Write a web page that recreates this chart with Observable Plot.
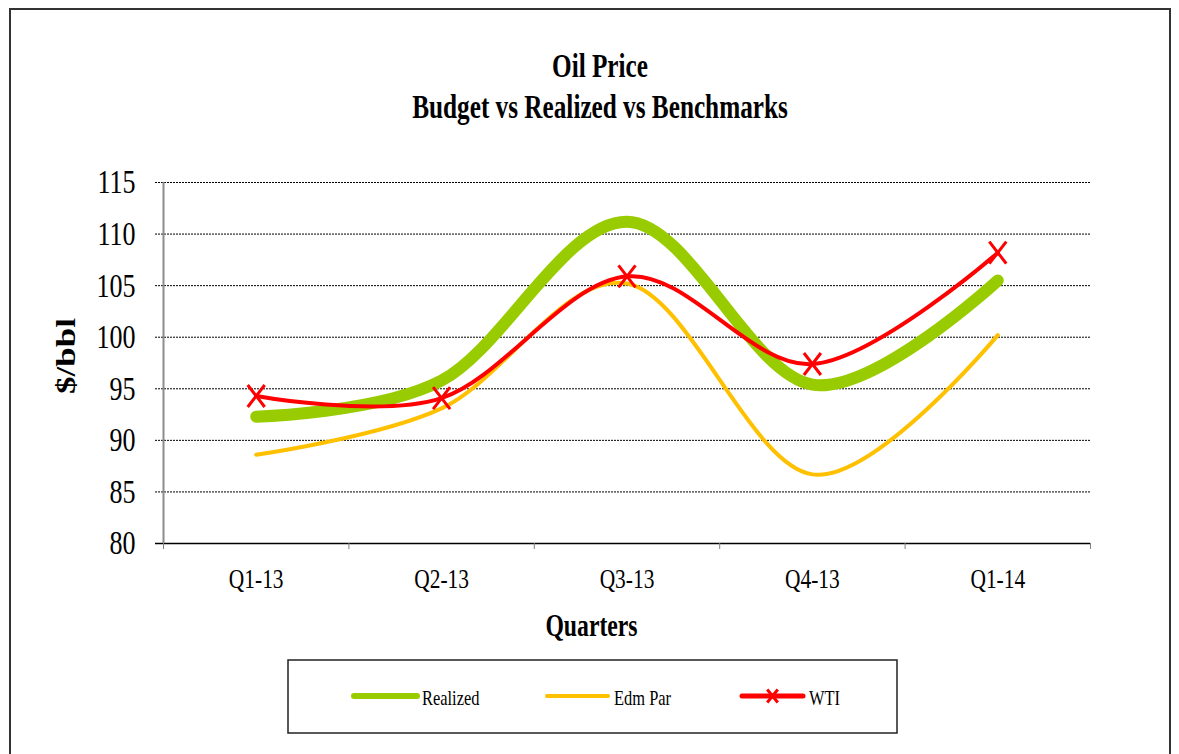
<!DOCTYPE html>
<html><head><meta charset="utf-8">
<script src="https://cdn.jsdelivr.net/npm/d3@7"></script>
<script src="https://cdn.jsdelivr.net/npm/@observablehq/plot@0.6"></script>
<style>
html,body{margin:0;padding:0;background:#fff;}
#wrap{position:relative;width:1179px;height:754px;overflow:hidden;background:#fff;}
#chart{position:absolute;left:0;top:0;}
#overlay{position:absolute;left:0;top:0;pointer-events:none;}
</style></head><body>
<div id="wrap"><div id="chart"></div><svg id="overlay" width="1179" height="754"></svg></div>
<script>
// ---- data ----
const quarters = ["Q1-13", "Q2-13", "Q3-13", "Q4-13", "Q1-14"];
const realized = [92.3, 95.8, 111.2, 95.4, 105.5];
const edmPar   = [88.6, 93.1, 105.2, 86.7, 100.2];
const wti      = [94.3, 94.1, 105.9, 97.4, 108.2];
const yTicks   = [80, 85, 90, 95, 100, 105, 110, 115];
const seriesNames = ["Realized", "Edm Par", "WTI"];
const titleLines = ["Oil Price", "Budget vs Realized vs Benchmarks"];
const xTitle = "Quarters";
const yTitle = "$/bbl";

// ---- styling ----
const colors = ["#99CC00", "#FFC000", "#FF0000"];
const FONT = "'Liberation Serif', 'Times New Roman', serif";
const S = 0.765; // horizontal squeeze of the reference's type

const rows = (vals) => quarters.map((q, i) => ({x: i + 0.5, q, v: vals[i]}));
const xMid = quarters.map((q, i) => i + 0.5);
const xBounds = d3.range(quarters.length + 1);
const gridTicks = yTicks.filter(t => t > yTicks[0]);

const xMark = {draw(ctx) { ctx.moveTo(-8.5, -11); ctx.lineTo(8.5, 11); ctx.moveTo(8.5, -11); ctx.lineTo(-8.5, 11); }};

const plot = Plot.plot({
  width: 1179, height: 660,
  marginLeft: 163, marginRight: 89, marginTop: 182, marginBottom: 117,
  style: {fontFamily: FONT, background: "transparent", color: "#000", overflow: "visible"},
  x: {type: "linear", domain: [0, quarters.length]},
  y: {type: "linear", domain: [yTicks[0], yTicks[yTicks.length - 1]]},
  marks: [
    Plot.ruleY(gridTicks, {stroke: "#000", strokeWidth: 1, strokeDasharray: "2,1", insetLeft: -8}),
    Plot.ruleY([yTicks[0]], {stroke: "#000", strokeWidth: 1.5, insetLeft: -8}),
    Plot.ruleX([0], {stroke: "#8c8c8c", strokeWidth: 2}),
    Plot.axisY(yTicks, {tickSize: 0, tickPadding: 28, fontSize: 34, label: null}),
    Plot.axisX(xBounds, {tickSize: 6, stroke: "#808080", tickFormat: () => "", label: null}),
    Plot.axisX(xMid, {tickSize: 0, tickPadding: 25, fontSize: 28, tickFormat: d => quarters[Math.floor(d)], label: null}),
    Plot.line(rows(realized), {x: "x", y: "v", stroke: colors[0], strokeWidth: 12, strokeLinecap: "round", curve: "cardinal", tension: 0}),
    Plot.line(rows(edmPar), {x: "x", y: "v", stroke: colors[1], strokeWidth: 4, strokeLinecap: "round", curve: "cardinal", tension: 0}),
    Plot.line(rows(wti), {x: "x", y: "v", stroke: colors[2], strokeWidth: 4, strokeLinecap: "round", curve: "cardinal", tension: 0}),
    Plot.dot(rows(wti), {x: "x", y: "v", symbol: xMark, stroke: colors[2], strokeWidth: 3, fill: "none", r: 5})
  ]
});
document.getElementById("chart").appendChild(plot);
plot.querySelectorAll("text").forEach(t => {
  const w = t.getComputedTextLength();
  if (w > 0) { t.setAttribute("textLength", w * S); t.setAttribute("lengthAdjust", "spacingAndGlyphs"); }
});

// ---- overlay: frame, titles, legend ----
const ov = d3.select("#overlay");
ov.append("rect").attr("x", 10).attr("y", 9).attr("width", 1160).attr("height", 800)
  .attr("fill", "none").attr("stroke", "#333").attr("stroke-width", 2);

function txt(s, transform, size, weight, anchor) {
  return ov.append("text").attr("transform", transform).attr("text-anchor", anchor || "middle")
    .attr("font-family", FONT).attr("font-size", size).attr("font-weight", weight || "normal")
    .attr("fill", "#000").text(s);
}
txt(titleLines[0], `translate(600,76.7) scale(${S},1)`, 33, "bold");
txt(titleLines[1], `translate(600,118.3) scale(${S},1)`, 33, "bold");
txt(xTitle, `translate(591.5,635.7) scale(${S},1)`, 31, "bold");
txt(yTitle, `translate(75,356) rotate(-90) scale(1,${S})`, 35, "bold");

// legend
ov.append("rect").attr("x", 288).attr("y", 660).attr("width", 609).attr("height", 73)
  .attr("fill", "none").attr("stroke", "#222").attr("stroke-width", 1.5);
const legItems = [
  {x1: 354, x2: 417, w: 6, tx: 422},
  {x1: 547, x2: 608, w: 4, tx: 614},
  {x1: 742, x2: 803, w: 5, tx: 809}
];
legItems.forEach((it, i) => {
  ov.append("line").attr("x1", it.x1).attr("x2", it.x2).attr("y1", 696).attr("y2", 696)
    .attr("stroke", colors[i]).attr("stroke-width", it.w).attr("stroke-linecap", "round");
  txt(seriesNames[i], `translate(${it.tx},705) scale(${S},1)`, 21.5, "normal", "start");
});
const mx = (legItems[2].x1 + legItems[2].x2) / 2;
ov.append("path").attr("d", `M${mx-5.3},${696-6.5}L${mx+5.3},${696+6.5}M${mx+5.3},${696-6.5}L${mx-5.3},${696+6.5}`)
  .attr("stroke", colors[2]).attr("stroke-width", 3).attr("fill", "none");
</script>
</body></html>
